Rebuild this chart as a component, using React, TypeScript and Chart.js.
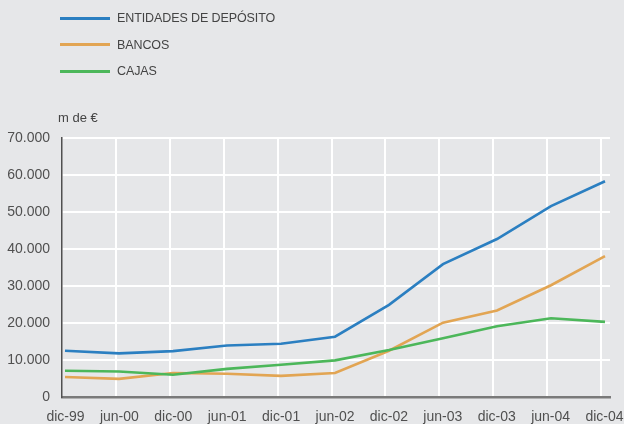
import React, { useEffect, useRef } from "react";
import { Chart, registerables } from "chart.js";

Chart.register(...registerables);

const periods = ["dic-99", "jun-00", "dic-00", "jun-01", "dic-01", "jun-02", "dic-02", "jun-03", "dic-03", "jun-04", "dic-04"];
const entidades = [12500, 11800, 12400, 13900, 14400, 16300, 24900, 35900, 42700, 51600, 58300];
const bancos = [5400, 4900, 6500, 6300, 5700, 6500, 12500, 20100, 23400, 30200, 38100];
const cajas = [7100, 6900, 6000, 7600, 8700, 9900, 12700, 15900, 19100, 21300, 20300];
const seriesNames = ["ENTIDADES DE DEPÓSITO", "BANCOS", "CAJAS"];
const seriesColors = ["#2b7fc1", "#e2a553", "#4cb75a"];
const unitLabel = "m de €";

const BG = "#e6e7e9";
const FONT = "'Liberation Sans', Arial, Helvetica, sans-serif";

function fmt(v: number): string {
  if (v === 0) return "0";
  const s = Math.round(v).toString();
  return s.replace(/\B(?=(\d{3})+(?!\d))/g, ".");
}

export default function App() {
  const ref = useRef<HTMLCanvasElement | null>(null);

  useEffect(() => {
    if (!ref.current) return;
    const allSeries = [entidades, bancos, cajas];
    const chart = new Chart(ref.current, {
      type: "line",
      data: {
        datasets: allSeries.map((arr, si) => ({
          label: seriesNames[si],
          data: arr.map((v, i) => ({ x: i, y: v })),
          borderColor: seriesColors[si],
          backgroundColor: seriesColors[si],
          borderWidth: 2.6,
          pointRadius: 0,
          tension: 0,
          fill: false,
          order: 3 - si,
        })),
      },
      options: {
        animation: false,
        responsive: false,
        maintainAspectRatio: false,
        layout: { padding: { top: 138, right: 14, left: 0, bottom: 0 } },
        plugins: { legend: { display: false }, tooltip: { enabled: false } },
        scales: {
          x: {
            type: "linear",
            min: -3 / 54,
            max: 10 + 5 / 54,
            afterBuildTicks: (scale: any) => {
              scale.ticks = periods.map((_, k) => ({ value: (-3 + 53.9 * k) / 54 }));
            },
            afterFit: (scale: any) => {
              scale.height = 27;
              scale.paddingLeft = 0;
              scale.paddingRight = 0;
            },
            ticks: {
              autoSkip: false,
              maxRotation: 0,
              padding: 12,
              labelOffset: 3.5,
              color: "#505050",
              font: { family: FONT, size: 14 },
              callback: (_v: any, index: number) => periods[index],
            },
            grid: {
              color: (ctx: any) => (ctx.index === 0 ? "rgba(0,0,0,0)" : "#ffffff"),
              lineWidth: 2,
              drawTicks: false,
            },
            border: { display: true, color: "#7a7a7a", width: 2.5 },
          },
          y: {
            type: "linear",
            min: 0,
            max: 70000,
            afterFit: (scale: any) => {
              scale.width = 62;
            },
            ticks: {
              stepSize: 10000,
              padding: 12,
              color: "#505050",
              font: { family: FONT, size: 14 },
              callback: (v: any) => fmt(Number(v)),
            },
            grid: {
              color: (ctx: any) => (ctx.index === 0 ? "rgba(0,0,0,0)" : "#ffffff"),
              lineWidth: 2,
              drawTicks: false,
            },
            border: { display: true, color: "#505050", width: 1.5 },
          },
        },
      },
    });
    return () => chart.destroy();
  }, []);

  const legendTops = [18, 44.5, 71];

  return (
    <div
      style={{
        position: "fixed",
        left: 0,
        top: 0,
        width: 624,
        height: 424,
        background: BG,
        overflow: "hidden",
        fontFamily: FONT,
      }}
    >
      <canvas ref={ref} width={624} height={424} style={{ position: "absolute", left: 0, top: 0, width: 624, height: 424 }} />
      {seriesNames.map((name, i) => (
        <React.Fragment key={name}>
          <div
            style={{
              position: "absolute",
              left: 60,
              top: legendTops[i] - 1.5,
              width: 50,
              height: 3,
              background: seriesColors[i],
            }}
          />
          <div
            style={{
              position: "absolute",
              left: 117,
              top: legendTops[i] - 8,
              height: 16,
              lineHeight: "16px",
              fontSize: 12.5,
              letterSpacing: "-0.1px",
              color: "#444",
              whiteSpace: "nowrap",
            }}
          >
            {name}
          </div>
        </React.Fragment>
      ))}
      <div
        style={{
          position: "absolute",
          left: 58,
          top: 110,
          height: 16,
          lineHeight: "16px",
          fontSize: 13,
          color: "#444",
          whiteSpace: "nowrap",
        }}
      >
        {unitLabel}
      </div>
    </div>
  );
}
